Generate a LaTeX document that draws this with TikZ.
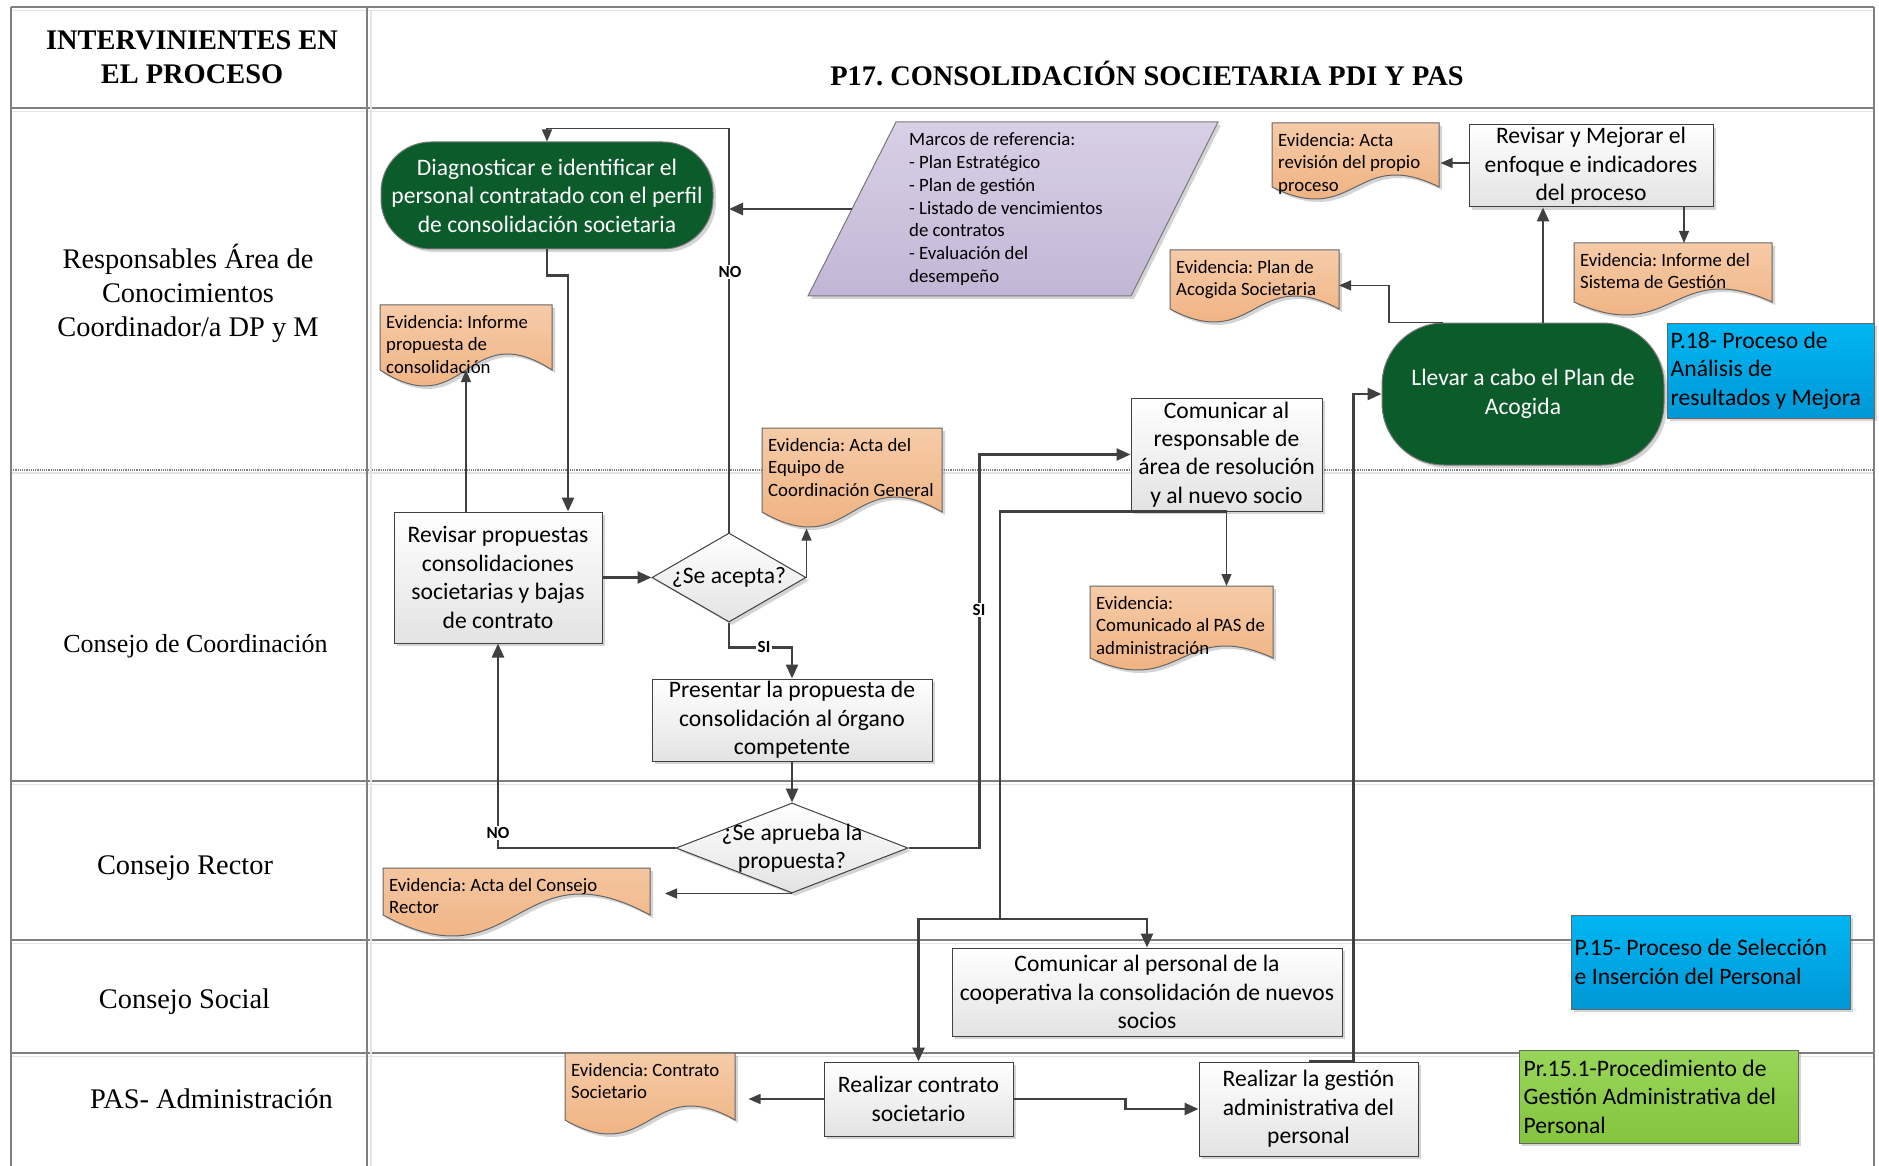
\documentclass[tikz,border=0pt]{standalone}
\usepackage{fontspec}
\setmainfont{Liberation Serif}
\newfontfamily\calib{Carlito}
\usetikzlibrary{shapes.geometric,arrows.meta,shadows}
\frenchspacing

\definecolor{inkgray}{HTML}{404040}
\definecolor{gridgray}{HTML}{808080}
\definecolor{gridlight}{HTML}{E4E4E4}
\definecolor{termgreen}{HTML}{0B5B2B}
\definecolor{evtop}{HTML}{F6CBA8}
\definecolor{evbot}{HTML}{EDAA74}
\definecolor{lavtop}{HTML}{D8D0E6}
\definecolor{lavbot}{HTML}{C2B6D6}
\definecolor{bluetop}{HTML}{00B6F2}
\definecolor{bluebot}{HTML}{0097D6}
\definecolor{greentop}{HTML}{98D65A}
\definecolor{greenbot}{HTML}{84C43E}

\tikzset{
  boxfont/.style={font=\calib\fontsize{23.6}{28.4}\selectfont},
  smallfont/.style={font=\calib\fontsize{18.8}{22.7}\selectfont},
  lanefont/.style={font=\fontsize{28.4}{34}\selectfont},
  softshadow/.style={drop shadow={shadow xshift=3pt,shadow yshift=-3pt,opacity=.28,fill=black!60}},
  procbox/.style={rectangle, draw=inkgray, line width=1pt, top color=white, bottom color=black!11, softshadow, boxfont, align=center, inner sep=0pt},
  termbox/.style={rectangle, draw=inkgray!70, line width=1pt, fill=termgreen, softshadow, boxfont, text=white, align=center, inner sep=0pt},
  decbox/.style={diamond, draw=inkgray, line width=1pt, top color=white, bottom color=black!11, softshadow, inner sep=0pt},
  refbox/.style={rectangle, draw=inkgray!80, line width=1pt, softshadow, inner sep=0pt},
  reftext/.style={boxfont, align=left, anchor=west, inner sep=0pt},
  evbody/.style={draw=inkgray!80, line width=1pt, top color=evtop, bottom color=evbot, softshadow},
  evtext/.style={smallfont, align=left, anchor=north west, inner sep=0pt},
  lanelabel/.style={lanefont, align=center, inner sep=0pt},
  gridline/.style={draw=gridgray, line width=1.5pt},
  gridsoft/.style={draw=gridlight, line width=1.5pt},
  flowthick/.style={draw=inkgray, line width=2.6pt},
  flowthin/.style={draw=inkgray, line width=1.2pt},
  tipbig/.style={-{Triangle[length=14pt,width=12pt]}},
  tipsmall/.style={-{Triangle[length=12pt,width=10pt]}},
  branchlabel/.style={font=\calib\bfseries\fontsize{17}{20}\selectfont, fill=white, inner sep=1.5pt},
}

% evidence document: name, left x, top y, width, wave baseline depth, wave amplitude, text
\newcommand\evdoc[7]{%
  \pgfmathsetmacro\evdctrl{#6/0.2887}%
  \path[evbody] (#2,#3) -- ({#2+#4},#3) -- ({#2+#4},{#3+#5})
    .. controls ({#2+0.5*#4},{#3+#5-\evdctrl}) and ({#2+0.5*#4},{#3+#5+\evdctrl}) .. (#2,{#3+#5}) -- cycle;
  \coordinate (#1-top) at ({#2+0.5*#4},#3);
  \coordinate (#1-mid) at ({#2+0.5*#4},{#3+#5});
  \coordinate (#1-e) at ({#2+#4},{#3+0.6*#5});
  \node[evtext] (#1) at ({#2+6},{#3+10}) {#7};
}

\begin{document}
\begin{tikzpicture}[x=1pt,y=-1pt]
\useasboundingbox (0,0) rectangle (1879,1166);
\fill[white] (0,0) rectangle (1879,1166);

% ---- table frame ----
\foreach \yy in {7,108,781,940,1053}{
  \draw[gridsoft] (11,{\yy+3.5}) -- (1874,{\yy+3.5});
  \draw[gridline] (11,\yy) -- (1874,\yy);
}
\draw[gridsoft] (11,473) -- (1874,473);
\draw[draw=gridgray, line width=1.2pt, densely dotted] (11,470) -- (1874,470);
\foreach \xx in {11,367,1874}{
  \draw[gridline] (\xx,7) -- (\xx,1166);
}
\draw[gridsoft] (371,10) -- (371,1166);

% ---- headings and lanes ----
\node[font=\bfseries\fontsize{28.4}{34}\selectfont, align=center] (hdrleft) at (192,57) {INTERVINIENTES EN\\EL PROCESO};
\node[font=\bfseries\fontsize{28.4}{34}\selectfont] (hdrtitle) at (1147,74) {P17. CONSOLIDACIÓN SOCIETARIA PDI Y PAS};

\node[lanelabel] (lane1) at (188,293) {Responsables Área de\\Conocimientos\\Coordinador/a DP y M};
\node[lanelabel, font=\fontsize{26}{31}\selectfont] (lane2) at (195.5,646) {Consejo de Coordinación};
\node[lanelabel] (lane3) at (185,868) {Consejo Rector};
\node[lanelabel] (lane4) at (184.5,1002) {Consejo Social};
\node[lanelabel] (lane5) at (211.5,1099) {PAS- Administración};

% ---- flow shapes ----
\node[termbox, minimum width=332pt, minimum height=107pt, rounded corners=50pt] (diag) at (547,195.5)
  {Diagnosticar e identificar el\\personal contratado con el perfil\\de consolidación societaria};

\path[draw=inkgray!70, line width=1pt, top color=lavtop, bottom color=lavbot, softshadow]
  (896,122) -- (1218,122) -- (1131,296) -- (808,296) -- cycle;
\node[smallfont, align=left, anchor=west, inner sep=0pt] (marcos) at (909,209)
  {Marcos de referencia:\\- Plan Estratégico\\- Plan de gestión\\- Listado de vencimientos\\de contratos\\- Evaluación del\\desempeño};
\coordinate (marcosL) at (852,209);

\node[procbox, minimum width=208pt, minimum height=131pt] (rev) at (498,577.5)
  {Revisar propuestas\\consolidaciones\\societarias y bajas\\de contrato};
\node[decbox, minimum width=154pt, minimum height=89pt] (acep) at (729,577.5) {};
\node[boxfont] (acep-t) at (acep) {¿Se acepta?};
\node[procbox, minimum width=280pt, minimum height=82pt] (pres) at (792,720)
  {Presentar la propuesta de\\consolidación al órgano\\competente};
\node[decbox, minimum width=232pt, minimum height=90pt] (apr) at (792,848) {};
\node[boxfont, align=center] (apr-t) at (apr) {¿Se aprueba la\\propuesta?};
\node[procbox, minimum width=191pt, minimum height=113pt] (comr) at (1226.5,454.5)
  {Comunicar al\\responsable de\\área de resolución\\y al nuevo socio};
\node[procbox, minimum width=390pt, minimum height=88pt] (comp) at (1147,992)
  {Comunicar al personal de la\\cooperativa la consolidación de nuevos\\socios};
\node[procbox, minimum width=189pt, minimum height=74pt] (contr) at (918.5,1099)
  {Realizar contrato\\societario};
\node[procbox, minimum width=219pt, minimum height=94pt] (gest) at (1308.5,1109)
  {Realizar la gestión\\administrativa del\\personal};
\node[procbox, minimum width=244pt, minimum height=82pt] (mej) at (1591,166)
  {Revisar y Mejorar el\\enfoque e indicadores\\del proceso};
\node[termbox, minimum width=282pt, minimum height=142pt, rounded corners=62pt] (llev) at (1523,394)
  {Llevar a cabo el Plan de\\Acogida};

% ---- linked procedures ----
\node[refbox, top color=bluetop, bottom color=bluebot, minimum width=207pt, minimum height=95pt] (p18) at (1770.5,370.5) {};
\node[reftext] (p18-t) at ([xshift=4pt]p18.west) {P.18- Proceso de\\Análisis de\\resultados y Mejora};
\node[refbox, top color=bluetop, bottom color=bluebot, minimum width=279pt, minimum height=94pt] (p15) at (1710.5,962) {};
\node[reftext] (p15-t) at ([xshift=4pt]p15.west) {P.15- Proceso de Selección\\e Inserción del Personal};
\node[refbox, top color=greentop, bottom color=greenbot, minimum width=279pt, minimum height=93pt] (p151) at (1658.5,1096.5) {};
\node[reftext] (p151-t) at ([xshift=5pt]p151.west) {Pr.15.1-Procedimiento de\\Gestión Administrativa del\\Personal};

% ---- evidence documents ----
\evdoc{docA}{380}{305}{172}{65}{16}{Evidencia: Informe\\propuesta de\\consolidación}
\evdoc{docB}{762}{428}{180}{84}{15}{Evidencia: Acta del\\Equipo de\\Coordinación General}
\evdoc{docC}{383}{868}{267}{47}{21}{Evidencia: Acta del Consejo\\Rector}
\evdoc{docD}{1090}{586}{183}{72}{12}{Evidencia:\\Comunicado al PAS de\\administración}
\evdoc{docE}{565}{1053}{170}{67}{14}{Evidencia: Contrato\\Societario}
\evdoc{docF}{1272}{123}{167}{64}{12}{Evidencia: Acta\\revisión del propio\\proceso}
\evdoc{docG}{1170}{250}{169}{59}{13}{Evidencia: Plan de\\Acogida Societaria}
\evdoc{docH}{1574}{243}{198}{59}{13}{Evidencia: Informe del\\Sistema de Gestión}

% ---- connectors ----
\draw[flowthick, tipbig] (diag.south) -- ++(0,26) -| ([xshift=70pt]rev.north);
\draw[flowthin, tipsmall] ([xshift=-32pt]rev.north) -- (docA-mid);
\draw[flowthick, tipbig] (rev.east) -- (acep.west);
\draw[flowthin, tipsmall] (acep.east) -- ++(0,-49);
\draw[flowthin, tipsmall] (acep.north) -- ++(0,-404) -| (diag.north);
\draw[flowthick, tipbig] (marcosL) -- (marcosL -| acep.north);
\draw[flowthick, tipbig] (acep.south) -- ++(0,25) -| (pres.north);
\draw[flowthick, tipbig] (pres.south) -- (apr.north);
\draw[flowthick, tipbig] (apr.west) -| (rev.south);
\draw[flowthin, tipsmall] (apr.south) -- ++(-127,0);
\draw[flowthick, tipbig] (apr.east) -- ++(71,0) |- (comr.west);
\draw[flowthin, tipsmall] (comr.south) -- (comr.south |- docD-top);
\coordinate (split) at (1000,919);
\draw[flowthick] (comr.south) -| (split);
\draw[flowthick, tipbig] (split) -| (comp.north);
\draw[flowthick, tipbig] (split) -| (contr.north);
\draw[flowthin, tipsmall] (contr.west) -- ++(-75,0);
\draw[flowthick, tipbig] (contr.east) -- ++(112,0) |- (gest.west);
\draw[flowthick, tipbig] (gest.north) -- ++(45,0) |- (llev.west);
\draw[flowthick, tipbig] ([xshift=20pt]llev.north) -- ([xshift=-48pt]mej.south);
\draw[flowthin, tipsmall] ([yshift=3pt]mej.west) -- ++(-28,0);
\coordinate (mejR) at ([xshift=93pt]mej.south);
\draw[flowthin, tipsmall] (mejR) -- (mejR |- docH-top);
\coordinate (llevTL) at ([xshift=-80pt]llev.north);
\draw[flowthin, tipsmall] (llevTL) -- ++(-54,0) |- (docG-e);

% ---- branch labels ----
\node[branchlabel] (no1) at (730,272) {NO};
\node[branchlabel] (no2) at (498,833) {NO};
\node[branchlabel] (si1) at (764,647) {SI};
\node[branchlabel] (si2) at (979,610) {SI};
\end{tikzpicture}
\end{document}
